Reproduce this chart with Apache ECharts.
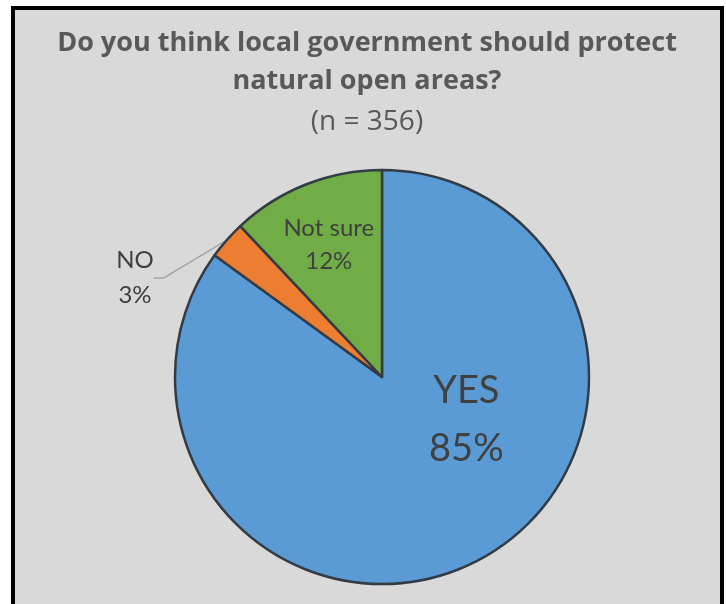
<!DOCTYPE html>
<html>
<head>
<meta charset="utf-8">
<script src="https://cdn.jsdelivr.net/npm/echarts@6/dist/echarts.min.js"></script>
<style>
html,body{margin:0;padding:0;background:#ffffff;width:726px;height:604px;overflow:hidden;}
#frame{position:absolute;left:11px;top:6px;width:705px;height:620px;border:4px solid #000;background:#d9d9d9;}
#chart{position:absolute;left:0;top:0;width:726px;height:604px;}
</style>
</head>
<body>
<div id="frame"></div>
<div id="chart"></div>
<script>
const titleLines = ['Do you think local government should protect', 'natural open areas?'];
const subtitle = '(n = 356)';
const categories = ['YES', 'NO', 'Not sure'];
const values = [85, 3, 12];
const colors = ['#5b9bd5', '#ed7d31', '#70ad47'];

const chart = echarts.init(document.getElementById('chart'), null, {renderer: 'canvas'});
const fontFam = 'Lato, "Open Sans", sans-serif';
const titleFam = '"Open Sans", Lato, sans-serif';
const labelStyles = [
  {position: 'inside', fontSize: 38, lineHeight: 58, offset: [36, -52]},
  {position: 'outside', fontSize: 24, lineHeight: 35},
  {position: 'inside', fontSize: 24, lineHeight: 33, offset: [-14, -33]}
];
const data = categories.map((c, i) => ({
  name: c,
  value: values[i],
  itemStyle: {color: colors[i]},
  label: Object.assign({}, labelStyles[i]),
  labelLine: {show: i === 1, lineStyle: {color: '#a6a6a6', width: 1.5}, length: 20, length2: 10}
}));

chart.setOption({
  animation: false,
  backgroundColor: 'transparent',
  title: {
    text: titleLines.join('\n'),
    subtext: subtitle,
    left: 362,
    textAlign: 'center',
    top: 19,
    itemGap: 6,
    textStyle: {fontFamily: titleFam, fontWeight: 'bold', fontSize: 27, lineHeight: 38, color: '#595959'},
    subtextStyle: {fontFamily: titleFam, fontSize: 28, lineHeight: 32, color: '#595959'}
  },
  series: [{
    type: 'pie',
    center: [382, 377],
    radius: 207,
    startAngle: 90,
    clockwise: true,
    avoidLabelOverlap: false,
    itemStyle: {borderColor: '#333b45', borderWidth: 2.5},
    label: {
      show: true,
      formatter: '{b}\n{d}%',
      color: '#404040',
      fontFamily: fontFam
    },
    labelLayout: function (p) {
      if (p.dataIndex === 1) {
        return {x: 135, y: 278, align: 'center', verticalAlign: 'middle'};
      }
      return {};
    },
    emphasis: {disabled: true},
    data: data
  }]
});
</script>
</body>
</html>
